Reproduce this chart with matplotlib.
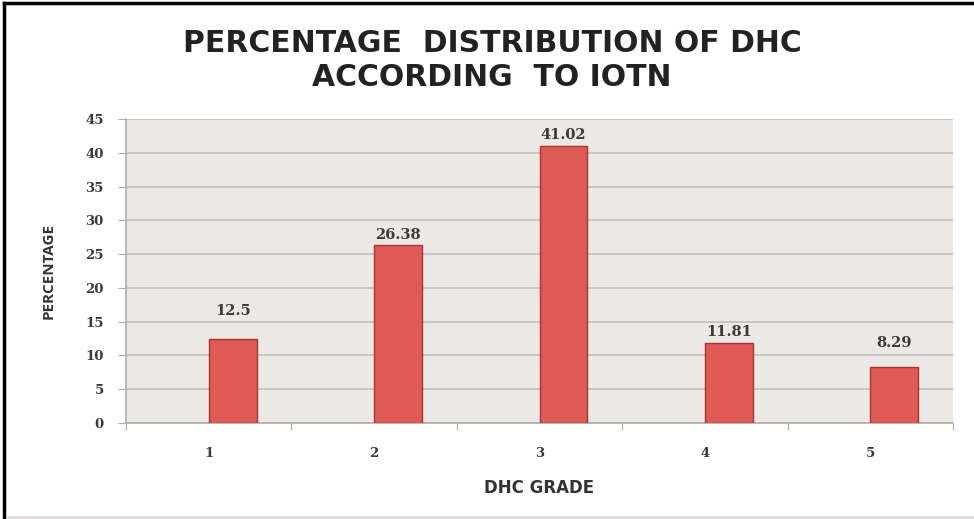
import matplotlib
matplotlib.use("Agg")
import matplotlib.pyplot as plt
from matplotlib.lines import Line2D

categories = ["1", "2", "3", "4", "5"]
values = [12.5, 26.38, 41.02, 11.81, 8.29]
value_labels = ["12.5", "26.38", "41.02", "11.81", "8.29"]
y_ticks = [0, 5, 10, 15, 20, 25, 30, 35, 40, 45]

# label offsets above bar tops (pixels), as placed in the original
label_offsets_px = [28, 10, 11, 11, 24]

W, H = 974, 519
fig = plt.figure(figsize=(W / 100, H / 100), dpi=100)
fig.patch.set_facecolor("white")

ax = fig.add_axes([126 / W, (H - 423) / H, (953 - 126) / W, (423 - 119) / H])
ax.set_facecolor("#ebe8e6")

x = list(range(1, len(categories) + 1))
bar_w = 0.29
ax.bar(x, values, width=bar_w, align="edge", color="#e05a55",
       edgecolor="#a8332f", linewidth=1.0, zorder=3)

for xi, v, lab, off in zip(x, values, value_labels, label_offsets_px):
    ax.annotate(lab, (xi + bar_w / 2, v), xytext=(0, off * 0.72),
                textcoords="offset points", ha="center", va="center",
                fontsize=10.5, fontweight="bold", color="#3a3a3a",
                family="DejaVu Serif", zorder=4)

ax.set_xlim(0.5, len(categories) + 0.5)
ax.set_ylim(0, 45)
ax.set_yticks(y_ticks)
ax.set_yticklabels([str(t) for t in y_ticks], family="DejaVu Serif",
                   fontweight="bold", fontsize=9.5, color="#3a3a3a")
ax.yaxis.grid(True, color="#c3bfbb", linewidth=1.2, zorder=0)
ax.set_axisbelow(True)

# major ticks at category boundaries, labels at centers
ax.set_xticks([i + 0.5 for i in range(0, len(categories) + 1)])
ax.set_xticklabels([""] * (len(categories) + 1))
ax.set_xticks(x, minor=True)
ax.set_xticklabels(categories, minor=True, family="DejaVu Serif",
                   fontweight="bold", fontsize=9.5, color="#3a3a3a")
ax.tick_params(axis="x", which="minor", length=0, pad=17)
ax.tick_params(axis="x", which="major", length=5, color="#b0aca8", direction="out")
ax.tick_params(axis="y", length=6, color="#b0aca8", direction="out", pad=10)

for s in ["top", "right"]:
    ax.spines[s].set_visible(False)
ax.spines["left"].set_color("#b0aca8")
ax.spines["bottom"].set_color("#b0aca8")
ax.spines["left"].set_linewidth(1.2)
ax.spines["bottom"].set_linewidth(1.2)

ax.set_ylabel("PERCENTAGE", family="Open Sans", fontweight="bold",
              fontsize=11, color="#333333", labelpad=21)
ax.set_xlabel("DHC GRADE", family="DejaVu Sans", fontweight="bold",
              fontsize=12, color="#333333", labelpad=14)

fig.text(492 / W, 1 - 43 / H, "PERCENTAGE  DISTRIBUTION OF DHC",
         ha="center", va="center", fontsize=21.5, family="DejaVu Sans",
         fontweight="bold", color="#222222")
fig.text(492 / W, 1 - 77 / H, "ACCORDING  TO IOTN",
         ha="center", va="center", fontsize=21.5, family="DejaVu Sans",
         fontweight="bold", color="#222222")

# outer frame lines
fig.add_artist(Line2D([4 / W, 4 / W], [0, 1 - 3 / H], color="black",
                      linewidth=2.5, transform=fig.transFigure))
fig.add_artist(Line2D([4 / W, 1], [1 - 3 / H, 1 - 3 / H], color="black",
                      linewidth=2.5, transform=fig.transFigure))
fig.add_artist(Line2D([8 / W, 1], [2 / H, 2 / H], color="#e0dcda",
                      linewidth=2, transform=fig.transFigure))

fig.savefig("out.png", dpi=100)
